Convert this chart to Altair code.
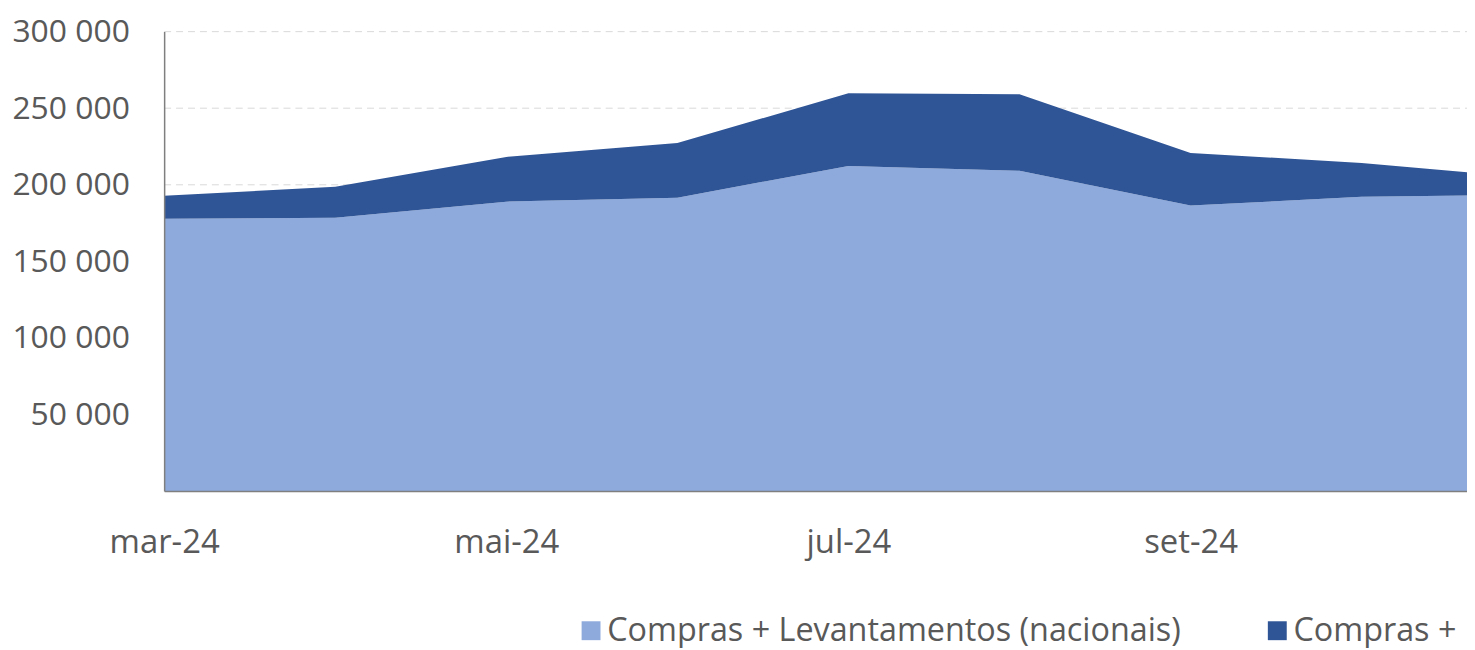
import altair as alt
import pandas as pd

months = ["mar-24", "abr-24", "mai-24", "jun-24", "jul-24", "ago-24", "set-24", "out-24", "nov-24"]
series_names = ["Compras + Levantamentos (nacionais)", "Compras + Levantamentos (internacionais)"]
nacionais = [177900, 178500, 189000, 191600, 212300, 209100, 186400, 192200, 193500]
internacionais = [15000, 20200, 29200, 35700, 47400, 50000, 34400, 22100, 11000]
y_ticks = [50000, 100000, 150000, 200000, 250000, 300000]
grid_values = [200000, 250000, 300000]
colors = ["#8EAADC", "#2F5597"]

rows = []
for i, m in enumerate(months):
    rows.append({"idx": i, "mes": m, "serie": series_names[0], "valor": nacionais[i], "ord": 0})
    rows.append({"idx": i, "mes": m, "serie": series_names[1], "valor": internacionais[i], "ord": 1})
df = pd.DataFrame(rows)
grid_df = pd.DataFrame({"valor": grid_values})

FONT = "Open Sans"
LABEL_COLOR = "#595959"
PLOT_W = 1310
X_MAX = 7.616  # visible part of the original (wider) chart

labels_js = "[" + ",".join("'" + m + "'" for m in months) + "]"

x_scale = alt.Scale(domain=[0, X_MAX], nice=False, zero=False)
y_scale = alt.Scale(domain=[0, 300000], nice=False)

y_axis = alt.Axis(
    values=y_ticks,
    labelExpr="replace(format(datum.value, ','), ',', ' ')",
    title=None,
    grid=False,
    ticks=False,
    labelFont=FONT,
    labelFontSize=32,
    labelColor=LABEL_COLOR,
    labelPadding=35,
    domainColor="#7F7F7F",
    domainWidth=1.5,
    zindex=1,
)

grid = alt.Chart(grid_df).mark_rule(color="#D9D9D9", strokeDash=[7, 5], strokeWidth=1).encode(
    y=alt.Y("valor:Q", scale=y_scale, axis=y_axis),
    x=alt.value(0),
    x2=alt.value(PLOT_W),
)

area = alt.Chart(df).mark_area(opacity=1, clip=True).encode(
    x=alt.X(
        "idx:Q",
        scale=x_scale,
        axis=alt.Axis(
            values=[0, 2, 4, 6],
            labelExpr=labels_js + "[datum.value]",
            title=None,
            grid=False,
            ticks=False,
            labelFlush=False,
            labelFont=FONT,
            labelFontSize=33,
            labelColor=LABEL_COLOR,
            labelPadding=52,
            labelBaseline="middle",
            domainColor="#7F7F7F",
            domainWidth=1.5,
            zindex=1,
        ),
    ),
    y=alt.Y("valor:Q", stack="zero", scale=y_scale, axis=y_axis),
    color=alt.Color(
        "serie:N",
        scale=alt.Scale(domain=series_names, range=colors),
        sort=series_names,
        legend=alt.Legend(
            title=None,
            orient="none",
            legendX=413,
            legendY=586,
            direction="horizontal",
            symbolType="square",
            symbolSize=361,
            symbolStrokeWidth=0,
            labelFont=FONT,
            labelFontSize=32.5,
            labelColor=LABEL_COLOR,
            labelOffset=0,
            columnPadding=80,
            labelLimit=1000,
        ),
    ),
    order=alt.Order("ord:Q", sort="ascending"),
)

chart = alt.layer(grid, area).properties(
    width=PLOT_W,
    height=462,
    autosize=alt.AutoSizeParams(type="none"),
    padding={"left": 157, "top": 22, "right": 0, "bottom": 156},
    background="white",
).configure_view(stroke=None)

chart.save("out.html", embed_options={"renderer": "svg", "actions": False})
